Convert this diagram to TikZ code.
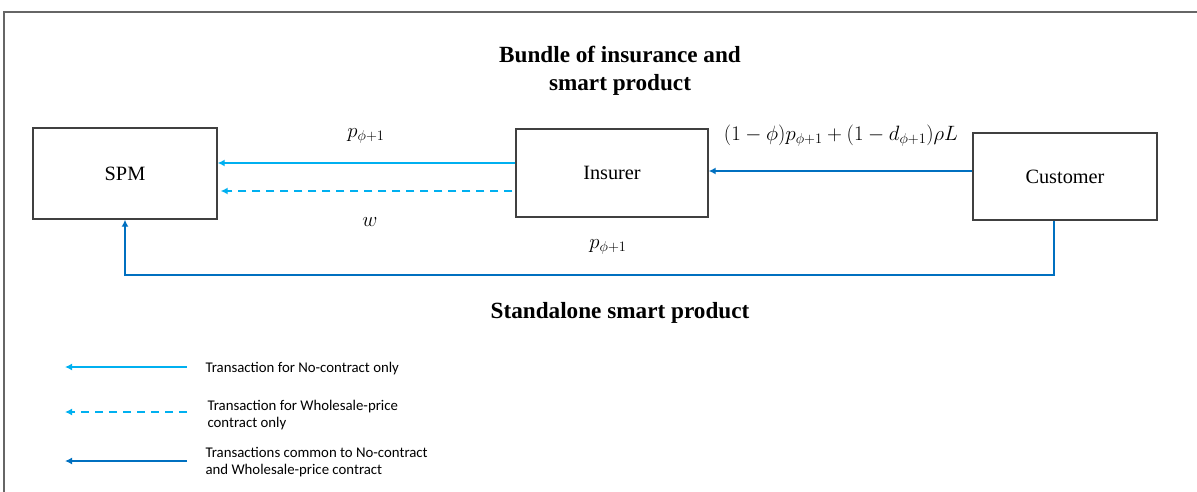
\documentclass[tikz,border=0pt]{standalone}
\usepackage{fontspec}
\setmainfont{Liberation Serif}
\newfontfamily\legendfont{Carlito}
\usetikzlibrary{arrows.meta}
\definecolor{lightblue}{HTML}{00B0F0}
\definecolor{darkblue}{HTML}{0070C0}
\definecolor{boxgray}{HTML}{404040}
\tikzset{
  actor/.style={draw=boxgray, line width=1.4pt, inner sep=0pt, font=\fontsize{20.3}{24}\selectfont},
  flowtip/.style={-{Latex[length=7pt,width=7pt]}},
  onlyno/.style={flowtip, draw=lightblue, line width=1.8pt},
  onlywp/.style={flowtip, draw=lightblue, line width=1.8pt, dash pattern=on 8pt off 6pt},
  common/.style={flowtip, draw=darkblue, line width=2pt},
  heading/.style={font=\fontsize{23.2}{28}\selectfont\bfseries, align=center},
  amount/.style={font=\fontsize{20.4}{24}\selectfont},
  legendtext/.style={font=\legendfont\fontsize{14.8}{17}\selectfont, align=left, anchor=west},
}
\begin{document}
\begin{tikzpicture}[x=1pt, y=-1pt]
\useasboundingbox (0,0) rectangle (1197,492);
% frame
\draw[draw=gray!80!black, line width=1.4pt] (4,492) -- (4,12) -- (1197,12);

% titles
\node[heading] (bundle) at (620,71) {Bundle of insurance and\\smart product};
\node[heading] (standalone) at (620,313) {Standalone smart product};

% actors
\node[actor, minimum width=184pt, minimum height=91pt] (spm) at (125,173.5) {SPM};
\node[actor, minimum width=192pt, minimum height=88pt] (ins) at (612,173) {Insurer};
\node[actor, minimum width=184pt, minimum height=87pt] (cus) at (1065,176.5) {Customer};

% flows between actors
\draw[onlyno] (ins.west |- 0,163) -- (spm.east |- 0,163);
\draw[onlywp] ([xshift=-3pt]ins.west |- 0,191) -- ([xshift=3pt]spm.east |- 0,191);
\draw[common] (cus.west |- 0,171) -- (ins.east |- 0,171);
\coordinate (turnR) at (1054,275);
\coordinate (turnL) at (125,275);
\draw[common] (cus.south -| turnR) -- (turnR) -- (turnL) -- (spm.south);

% amounts
\node[amount] (pins) at (366,136) {$p_{\phi+1}$};
\node[amount] (wins) at (370,222) {$w$};
\node[amount] (pcus) at (841,136) {$(1-\phi)p_{\phi+1}+(1-d_{\phi+1})\rho L$};
\node[amount] (pdir) at (608,247) {$p_{\phi+1}$};

% legend
\coordinate (la1) at (187,367); \coordinate (lb1) at (65,367);
\coordinate (la2) at (187,412); \coordinate (lb2) at (65,412);
\coordinate (la3) at (187,461); \coordinate (lb3) at (65,461);
\draw[onlyno] (la1) -- (lb1);
\draw[onlywp] (la2) -- (lb2);
\draw[common] (la3) -- (lb3);
\node[legendtext] (t1) at (202,369) {Transaction for No-contract only};
\node[legendtext] (t2) at (204,415) {Transaction for Wholesale-price\\contract only};
\node[legendtext] (t3) at (202,462) {Transactions common to No-contract\\and Wholesale-price contract};
\end{tikzpicture}
\end{document}
